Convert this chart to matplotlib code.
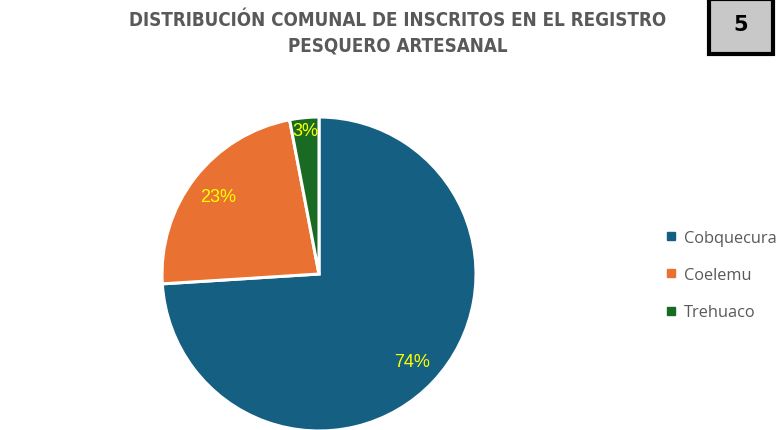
import matplotlib
matplotlib.use("Agg")
import matplotlib.pyplot as plt
from matplotlib.lines import Line2D
from matplotlib.patches import Rectangle
import numpy as np

categories = ["Cobquecura", "Coelemu", "Trehuaco"]
values = [74, 23, 3]
colors = ["#156082", "#E97132", "#196B24"]
title_lines = "DISTRIBUCIÓN COMUNAL DE INSCRITOS EN EL REGISTRO\nPESQUERO ARTESANAL"
badge = "5"

W, H = 782, 431
fig = plt.figure(figsize=(W / 100, H / 100), dpi=100)
fig.patch.set_facecolor("white")

cx, cy, r = 319, 275, 157
ax = fig.add_axes([(cx - r) / W, (H - cy - r) / H, 2 * r / W, 2 * r / H])
ax.axis("off")

wedges, texts, autotexts = ax.pie(
    values, colors=colors, startangle=90, counterclock=False,
    radius=1, autopct="%d%%", pctdistance=0.81,
    wedgeprops=dict(edgecolor="white", linewidth=2.2),
    textprops=dict(color="#FFFF00", fontsize=13, family="Liberation Sans"),
)
ax.set_xlim(-1, 1)
ax.set_ylim(-1, 1)
ax.set_aspect("equal")
for w in wedges:
    w.set_clip_on(False)
# best-fit position for the small slice
w = wedges[2]
ang = np.deg2rad((w.theta1 + w.theta2) / 2)
autotexts[2].set_position((0.92 * np.cos(ang), 0.92 * np.sin(ang)))

fig.text(398 / W, 1 - 33 / H, title_lines, ha="center", va="center",
         fontsize=13.5, fontweight="bold", color="#595959",
         family="DejaVu Sans", fontstretch="condensed", linespacing=1.4)

# badge box
bx0, by0, bx1, by1 = 709, 0, 773, 55
fig.patches.append(Rectangle((bx0 / W, 1 - by1 / H), (bx1 - bx0) / W, (by1 - by0) / H,
                             transform=fig.transFigure, facecolor="#C8C8C8",
                             edgecolor="black", linewidth=3))
fig.text((bx0 + bx1) / 2 / W, 1 - 25 / H, badge, ha="center", va="center",
         fontsize=15, fontweight="bold", color="black", family="DejaVu Sans")

handles = [Line2D([0], [0], marker="s", linestyle="none", markersize=6,
                  markerfacecolor=c, markeredgecolor=c) for c in colors]
leg = fig.legend(handles, categories, loc="center left",
                 bbox_to_anchor=(651 / W, 1 - 276 / H), frameon=False,
                 handlelength=0.6, handletextpad=0.5, labelspacing=1.3,
                 prop=dict(family="Open Sans", size=11.8))
for t in leg.get_texts():
    t.set_color("#595959")

fig.savefig("out.png", dpi=100)
